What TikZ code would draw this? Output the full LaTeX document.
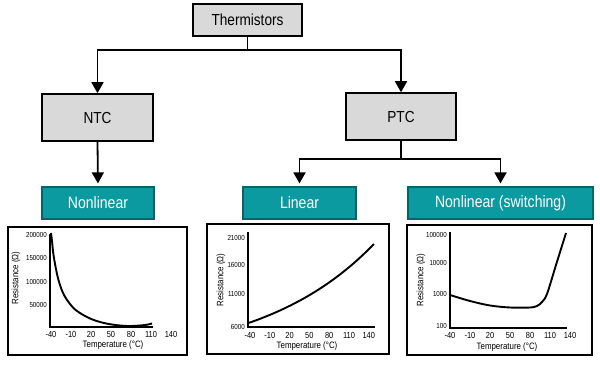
\documentclass[tikz,border=0pt]{standalone}
\usepackage{fontspec}
\setmainfont{Liberation Sans}[FakeStretch=0.85]
\usetikzlibrary{arrows.meta}
\definecolor{teal1}{HTML}{0A9AA0}
\definecolor{tealb}{HTML}{06656B}
\definecolor{grayf}{HTML}{D9D9D9}
\tikzset{
  graybox/.style={draw=black,line width=1.5pt,fill=grayf,inner sep=0pt,font=\fontsize{16}{18}\selectfont},
  tealbox/.style={draw=tealb,line width=1.2pt,fill=teal1,text=white,inner sep=0pt,minimum height=32pt,font=\fontsize{16.5}{18}\selectfont},
  conn/.style={line width=1.8pt},
  arr/.style={line width=1.8pt,-{Triangle[width=12pt,length=11pt]}},
  frame/.style={line width=1.6pt},
  axis/.style={line width=1.9pt},
  curve/.style={line width=1.9pt},
  xt/.style={font=\fontsize{8.8}{9}\selectfont,inner sep=0pt},
  yt/.style={font=\fontsize{7.3}{8}\selectfont,inner sep=0pt,anchor=east},
  alab/.style={font=\fontsize{9.3}{10}\selectfont,inner sep=0pt}
}
\begin{document}
\begin{tikzpicture}[x=1pt,y=-1pt]
\useasboundingbox (0,0) rectangle (600,366);
% boxes
\node[graybox,minimum width=109pt,minimum height=32pt] (th) at (247.5,20) {Thermistors};
\node[graybox,minimum width=111pt,minimum height=47pt] (ntc) at (97.5,117.5) {NTC};
\node[graybox,minimum width=110pt,minimum height=47pt] (ptc) at (401,116.5) {PTC};
\node[tealbox,minimum width=112pt] (nl) at (98,203) {Nonlinear};
\node[tealbox,minimum width=113pt] (lin) at (299.5,203) {Linear};
\node[tealbox,minimum width=185pt] (nls) at (500.5,203) {Nonlinear (switching)};
% connectors
\coordinate (j1) at (247.5,50);
\coordinate (j2) at (401,159);
\draw[conn] (th.south) -- (j1);
\draw[arr] (j1) -| (ntc.north);
\draw[arr] (j1) -| (ptc.north);
\draw[arr,shorten >=3pt] (ntc.south) -- (nl.north);
\draw[conn] (ptc.south) -- (j2);
\draw[arr,shorten >=3pt] (j2) -| (lin.north);
\draw[arr,shorten >=3pt] (j2) -| (nls.north);
% ---------- left plot ----------
\draw[frame] (8,227) rectangle (187,355);
\draw[axis] (50,234) -- (50,327) -- (153,327);
\draw[curve] plot[smooth,tension=0.6] coordinates {(51,233) (52,241) (53.5,255) (56.8,273) (60,285) (64,295) (70,304) (77,311) (90,318.5) (104,323) (118,325.3) (131,326) (145,325) (152,323.5)};
\foreach \t [count=\i from 0] in {-40,-10,20,50,80,110,140}
  \node[xt] (lx\i) at (51+20*\i,334) {\t};
\node[yt] (ly1) at (47,235) {200000};
\node[yt] (ly2) at (47,258) {150000};
\node[yt] (ly3) at (47,282) {100000};
\node[yt] (ly4) at (47,305) {50000};
\node[alab] (lxl) at (113,345) {Temperature (°C)};
\node[alab,rotate=90] (lyl) at (16,278) {Resistance (Ω)};
% ---------- middle plot ----------
\draw[frame] (207,224) rectangle (389,354);
\draw[axis] (248,232) -- (248,327) -- (375,327);
\draw[curve] plot[domain=-40:140,samples=40,smooth] ({249+(\x+40)*0.694},{327-(6.7*exp(0.006076*(\x+40))-6)*5.933});
\foreach \t [count=\i from 0] in {-40,-10,20,50,80,110,140}
  \node[xt] (mx\i) at (250+19.8*\i,335) {\t};
\node[yt] (my1) at (245,238) {21000};
\node[yt] (my2) at (245,265) {16000};
\node[yt] (my3) at (245,294) {11000};
\node[yt] (my4) at (245,327) {6000};
\node[alab] (mxl) at (307,346) {Temperature (°C)};
\node[alab,rotate=90] (myl) at (221,280) {Resistance (Ω)};
% ---------- right plot ----------
\draw[frame] (407,225) rectangle (592,355);
\draw[axis] (450,232) -- (450,328) -- (567,328);
\draw[curve] plot[smooth,tension=0.5] coordinates {(450,295) (470,301) (490,305.5) (510,307.5) (530,307.5) (537,306) (542,302) (547,294) (556,265) (566,233)};
\foreach \t [count=\i from 0] in {-40,-10,20,50,80,110,140}
  \node[xt] (rx\i) at (450+20*\i,335) {\t};
\node[yt] (ry1) at (447,235) {100000};
\node[yt] (ry2) at (447,263) {10000};
\node[yt] (ry3) at (447,294) {1000};
\node[yt] (ry4) at (447,326) {100};
\node[alab] (rxl) at (507,347) {Temperature (°C)};
\node[alab,rotate=90] (ryl) at (421,280) {Resistance (Ω)};
\end{tikzpicture}
\end{document}
